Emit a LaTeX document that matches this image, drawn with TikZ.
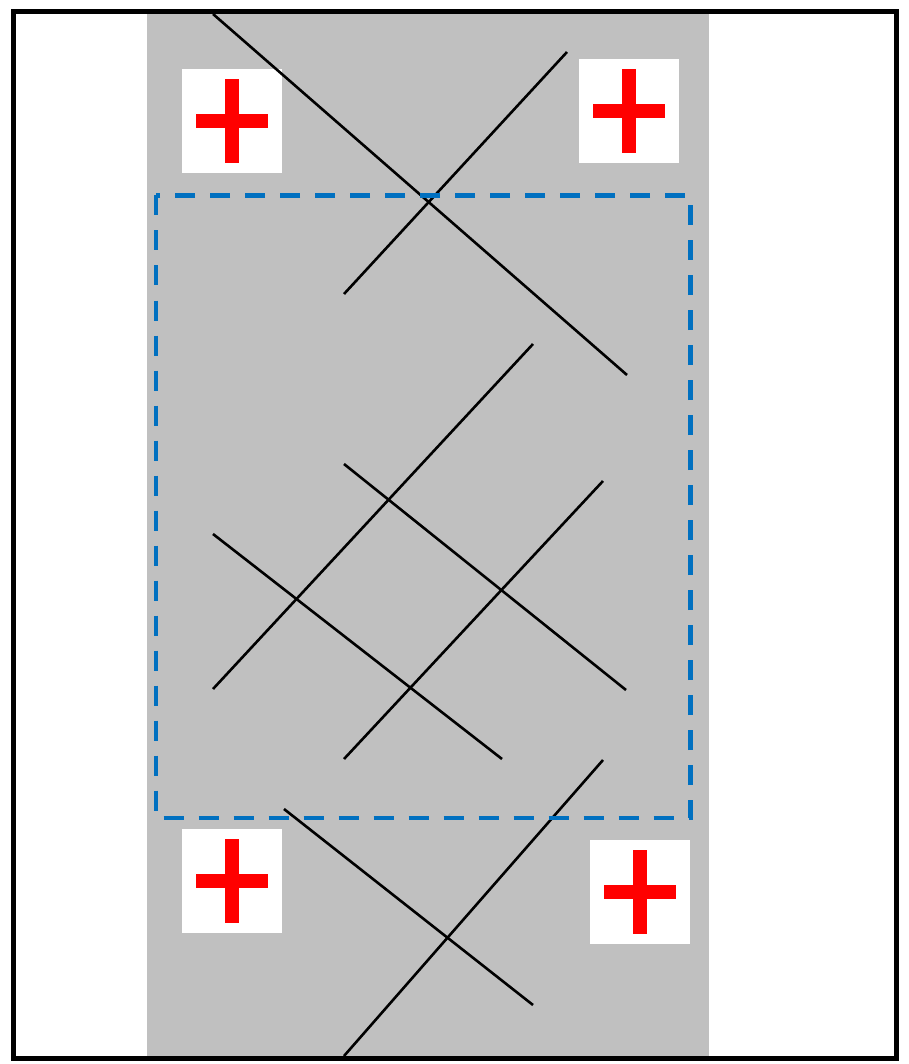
\documentclass[tikz,border=0pt]{standalone}
\usetikzlibrary{calc}
\definecolor{bandgrey}{HTML}{C0C0C0}
\definecolor{zoneblue}{HTML}{0070C0}

\begin{document}
\begin{tikzpicture}[
      x=1pt, y=-1pt,
      crack/.style={draw=black, line width=2.6pt},
      aidbox/.style={fill=white, inner sep=0pt,
                     minimum width=100pt, minimum height=104pt},
      zone/.style={draw=zoneblue, line width=4.6pt,
                   dash pattern=on 20pt off 15pt},
    ]
    \useasboundingbox (0,0) rectangle (908,1064);
    \fill[bandgrey] (147,11) rectangle (709,1058);

    % first-aid boxes
    \node[aidbox] (aidA) at (232,121)   {};
    \node[aidbox] (aidB) at (629,111.5) {};
    \node[aidbox] (aidC) at (231.5,881) {};
    \node[aidbox] (aidD) at (640,892)   {};
    \foreach \b in {aidA, aidB, aidC, aidD} {
      \fill[red] ($(\b)+(-7,-42)$) rectangle ($(\b)+(7,42)$);
      \fill[red] ($(\b)+(-36,-7)$) rectangle ($(\b)+(36,7)$);
    }

    % cracks
    \draw[crack] (213,14)  -- (627,375);
    \draw[crack] (567,52)  -- (344,294);
    \draw[crack] (533,344) -- (213,689);
    \draw[crack] (344,464) -- (626,690);
    \draw[crack] (603,481) -- (344,759);
    \draw[crack] (213,534) -- (502,759);
    \draw[crack] (284,809) -- (533,1005);
    \draw[crack] (603,760) -- (344,1056);

    % inspection zone
    \draw[zone] (156,195.5) rectangle (690.5,818);

    % frame
    \draw[line width=5pt] (13.5,11.5) rectangle (896.5,1058.5);
  \end{tikzpicture}
\end{document}
